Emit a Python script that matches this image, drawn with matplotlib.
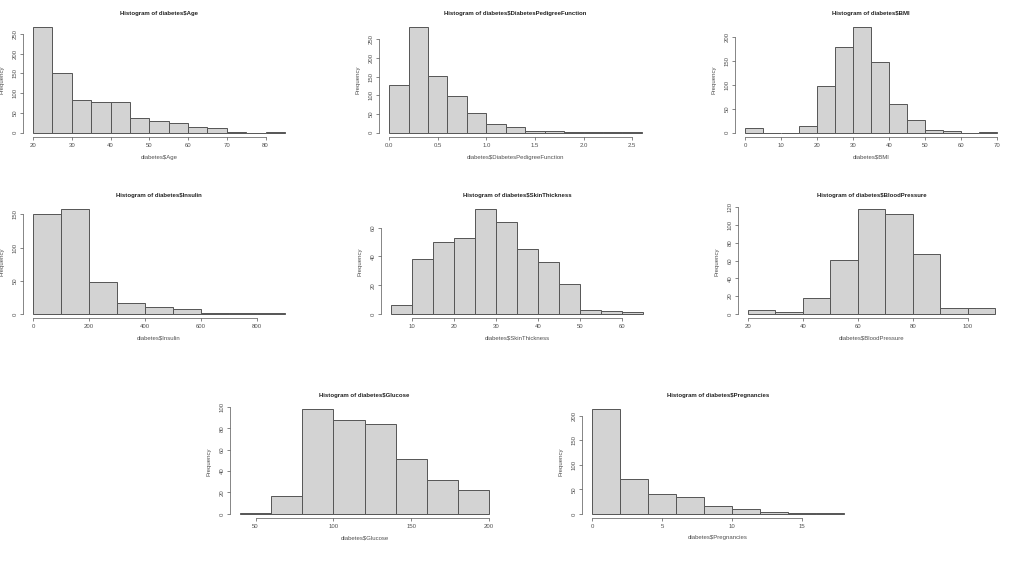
import numpy as np
import matplotlib
matplotlib.use('Agg')
import matplotlib.pyplot as plt

plt.rcParams['font.family'] = ['Liberation Sans', 'DejaVu Sans']

# --- data: bin edges and counts ---
age_edges = [20, 25, 30, 35, 40, 45, 50, 55, 60, 65, 70, 75, 80, 85]
age_counts = [267, 152, 82, 77, 77, 38, 31, 24, 15, 11, 2, 0, 1]

dpf_edges = [0.0, 0.2, 0.4, 0.6, 0.8, 1.0, 1.2, 1.4, 1.6, 1.8, 2.0, 2.2, 2.4, 2.6]
dpf_counts = [128, 282, 153, 99, 54, 23, 16, 5, 5, 1, 1, 3, 1]

bmi_edges = [0, 5, 10, 15, 20, 25, 30, 35, 40, 45, 50, 55, 60, 65, 70]
bmi_counts = [11, 0, 0, 14, 98, 179, 220, 148, 61, 27, 6, 3, 0, 1]

insulin_edges = [0, 100, 200, 300, 400, 500, 600, 700, 800, 900]
insulin_counts = [150, 158, 48, 17, 11, 7, 1, 1, 1]

skin_edges = [5, 10, 15, 20, 25, 30, 35, 40, 45, 50, 55, 60, 65]
skin_counts = [6, 38, 50, 53, 73, 64, 45, 36, 21, 3, 2, 1]

bp_edges = [20, 30, 40, 50, 60, 70, 80, 90, 100, 110]
bp_counts = [4, 2, 18, 61, 118, 113, 68, 6, 6]

glucose_edges = [40, 60, 80, 100, 120, 140, 160, 180, 200]
glucose_counts = [1, 17, 98, 88, 84, 51, 32, 22]

preg_edges = [0, 2, 4, 6, 8, 10, 12, 14, 16, 18]
preg_counts = [214, 72, 41, 34, 17, 10, 4, 1, 1]

panels = [
    ('Age', age_edges, age_counts, np.arange(20, 81, 10), np.arange(0, 251, 50), None),
    ('DiabetesPedigreeFunction', dpf_edges, dpf_counts, np.arange(0, 2.51, 0.5), np.arange(0, 251, 50), '%.1f'),
    ('BMI', bmi_edges, bmi_counts, np.arange(0, 71, 10), np.arange(0, 201, 50), None),
    ('Insulin', insulin_edges, insulin_counts, np.arange(0, 801, 200), np.arange(0, 151, 50), None),
    ('SkinThickness', skin_edges, skin_counts, np.arange(10, 61, 10), np.arange(0, 61, 20), None),
    ('BloodPressure', bp_edges, bp_counts, np.arange(20, 101, 20), np.arange(0, 121, 20), None),
    ('Glucose', glucose_edges, glucose_counts, np.arange(50, 201, 50), np.arange(0, 101, 20), None),
    ('Pregnancies', preg_edges, preg_counts, np.arange(0, 16, 5), np.arange(0, 201, 50), None),
]

# plot regions in pixels: (left, top, right, bottom)
W, H = 1024, 576
boxes = [
    (23, 23, 295, 137), (379, 23, 652, 137), (735, 23, 1007, 137),
    (23, 205, 295, 318), (381, 205, 653, 318), (738, 205, 1005, 318),
    (230, 405, 499, 518), (582, 405, 854, 518),
]

fig = plt.figure(figsize=(W / 100, H / 100), dpi=100)
txt = '#505050'

for (name, edges, counts, xt, yt, fmt), (l, t, r, b) in zip(panels, boxes):
    ax = fig.add_axes([l / W, 1 - b / H, (r - l) / W, (b - t) / H])
    edges = np.array(edges, dtype=float)
    ax.bar(edges[:-1], counts, width=np.diff(edges), align='edge',
           color='#d3d3d3', edgecolor='#555555', linewidth=0.7)

    xr = edges[-1] - edges[0]
    ymax = max(counts)
    ax.set_xlim(edges[0] - 0.04 * xr, edges[-1] + 0.04 * xr)
    ax.set_ylim(-0.04 * ymax, ymax * 1.04)

    ax.set_xticks(xt)
    ax.set_yticks(yt)
    if fmt:
        ax.set_xticklabels([fmt % v for v in xt])
    ax.tick_params(labelsize=4.3, length=2, width=0.5, colors='#555555',
                   labelcolor=txt, pad=2)
    for lab in ax.get_yticklabels():
        lab.set_rotation(90)
        lab.set_va('center')

    for s in ['top', 'right']:
        ax.spines[s].set_visible(False)
    for s in ['left', 'bottom']:
        ax.spines[s].set_linewidth(0.5)
        ax.spines[s].set_color('#555555')
    ax.spines['bottom'].set_bounds(xt[0], xt[-1])
    ax.spines['left'].set_bounds(yt[0], yt[-1])

    ax.set_title(f'Histogram of diabetes${name}', fontsize=4.3,
                 fontweight='bold', pad=6, color='#222222')
    ax.set_xlabel(f'diabetes${name}', fontsize=4.3, color=txt, labelpad=5)
    ax.set_ylabel('Frequency', fontsize=4.3, color=txt, labelpad=6)

fig.savefig('out.png', dpi=100, facecolor='white')
